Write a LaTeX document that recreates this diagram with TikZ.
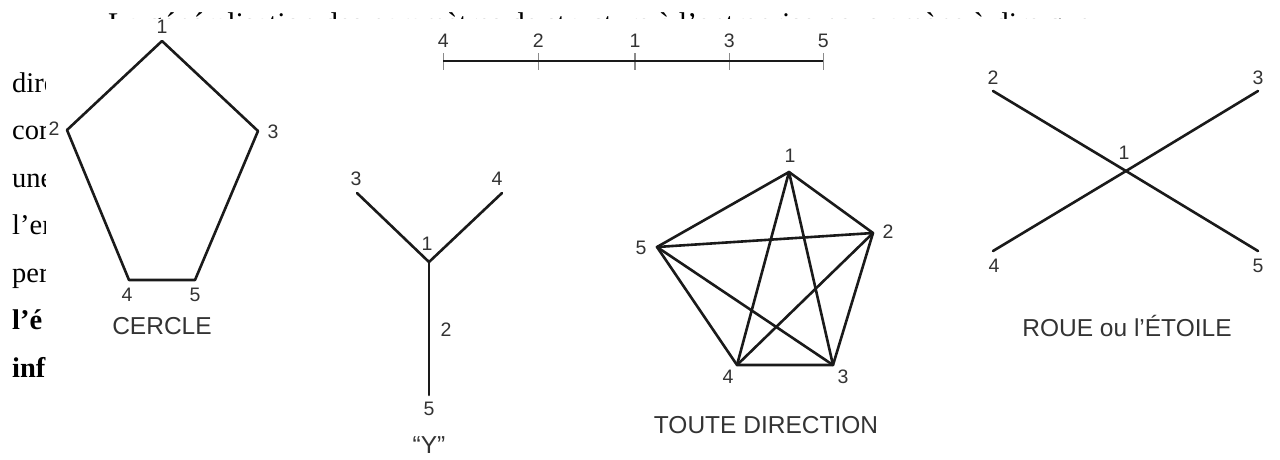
\documentclass[tikz,border=0pt]{standalone}
\usepackage{fontspec}
\setmainfont{Liberation Serif}
\newfontfamily\lsans{Liberation Sans}
\usetikzlibrary{calc}
\definecolor{linecol}{HTML}{1A1A1A}
\definecolor{labcol}{HTML}{333333}
\definecolor{tickcol}{HTML}{8A8A8A}
\tikzset{
  edge/.style={draw=linecol, line width=2.6pt, line cap=round, line join=round},
  tickline/.style={draw=tickcol, line width=1.1pt},
  lbl/.style={font=\lsans\fontsize{19.5}{21}\selectfont, text=labcol, inner sep=0pt},
  captxt/.style={font=\lsans\fontsize{24.5}{26}\selectfont, text=labcol, inner sep=0pt},
  para/.style={anchor=base west, inner sep=0pt, font=\fontsize{28.5}{30}\selectfont},
  parab/.style={para, font=\fontsize{28.5}{30}\selectfont\bfseries}
}
\begin{document}
\begin{tikzpicture}[x=1pt,y=-1pt]
\useasboundingbox (0,0) rectangle (1280,459);
\fill[white] (0,0) rectangle (1280,459);
% background text, mostly hidden by the figure
\begin{scope}
\clip (0,0) rectangle (1280,18);
\node[anchor=base west, inner sep=0pt, font=\fontsize{30}{32}\selectfont] (t0) at (108,33.5) {La généralisation des paramètres de structure à l’entreprise nous amène à dire que};
\end{scope}
\begin{scope}
\clip (0,18) rectangle (45,459);
\node[para] (t1) at (12,92) {dire};
\node[para] (t2) at (12,139.5) {cor};
\node[para] (t3) at (12,187) {une};
\node[para] (t4) at (12,234.5) {l’en};
\node[para] (t5) at (12,282) {per};
\node[parab] (t6) at (12,329.5) {l’é};
\node[parab] (t7) at (12,377) {inf};
\end{scope}

% CERCLE
\coordinate (c1) at (162,41);
\coordinate (c2) at (67,130);
\coordinate (c3) at (258,131);
\coordinate (c4) at (129,280);
\coordinate (c5) at (195,280);
\draw[edge] (c1) -- (c3) -- (c5) -- (c4) -- (c2) -- cycle;
\node[lbl] (lc1) at (162,27) {1};
\node[lbl] (lc2) at (54,129) {2};
\node[lbl] (lc3) at (273,132) {3};
\node[lbl] (lc4) at (127,295) {4};
\node[lbl] (lc5) at (195,295) {5};
\node[captxt] (capc) at (162,326) {CERCLE};

% CHAINE
\coordinate (b4) at (443.3,61);
\coordinate (b2) at (538.3,61);
\coordinate (b1) at (635,61);
\coordinate (b3) at (729.3,61);
\coordinate (b5) at (823.3,61);
\foreach \p in {b4,b2,b1,b3,b5}{
  \draw[tickline] ($(\p)+(0,-8)$) -- ($(\p)+(0,9)$);
}
\draw[edge, line width=2.3pt, line cap=butt] (b4) -- (b5);
\node[lbl] (lb4) at (443.3,41) {4};
\node[lbl] (lb2) at (538.3,41) {2};
\node[lbl] (lb1) at (635,41) {1};
\node[lbl] (lb3) at (729.3,41) {3};
\node[lbl] (lb5) at (823.3,41) {5};

% Y
\coordinate (y1) at (429,262);
\coordinate (y3) at (357,193);
\coordinate (y4) at (502,193);
\coordinate (y5) at (429,395);
\draw[edge] (y3) -- (y1) -- (y4);
\draw[edge] (y1) -- (y5);
\node[lbl] (ly3) at (356,179) {3};
\node[lbl] (ly4) at (497,179) {4};
\node[lbl] (ly1) at (427,244) {1};
\node[lbl] (ly2) at (446,330) {2};
\node[lbl] (ly5) at (429,409) {5};
\node[captxt] (capy) at (429,445) {“Y”};

% TOUTE DIRECTION
\coordinate (d1) at (789,172);
\coordinate (d2) at (873,233);
\coordinate (d3) at (833,365);
\coordinate (d4) at (737,365);
\coordinate (d5) at (657,247);
\draw[edge] (d1) -- (d2) -- (d3) -- (d4) -- (d5) -- cycle;
\draw[edge] (d1) -- (d3);
\draw[edge] (d1) -- (d4);
\draw[edge] (d2) -- (d4);
\draw[edge] (d2) -- (d5);
\draw[edge] (d3) -- (d5);
\node[lbl] (ld1) at (790,156) {1};
\node[lbl] (ld2) at (888,232) {2};
\node[lbl] (ld3) at (843,377) {3};
\node[lbl] (ld4) at (728,377) {4};
\node[lbl] (ld5) at (641,248) {5};
\node[captxt] (capd) at (766,425) {TOUTE DIRECTION};

% ROUE
\coordinate (r1) at (1126,171);
\coordinate (r2) at (993,91);
\coordinate (r3) at (1258,91);
\coordinate (r4) at (993,251);
\coordinate (r5) at (1258,251);
\draw[edge] (r2) -- (r1) -- (r5);
\draw[edge] (r4) -- (r1) -- (r3);
\node[lbl] (lr2) at (993,78) {2};
\node[lbl] (lr3) at (1258,78) {3};
\node[lbl] (lr1) at (1124,153) {1};
\node[lbl] (lr4) at (994,266) {4};
\node[lbl] (lr5) at (1258,266) {5};
\node[captxt] (capr) at (1127,326) {ROUE ou l’ÉTOILE};
\end{tikzpicture}
\end{document}
